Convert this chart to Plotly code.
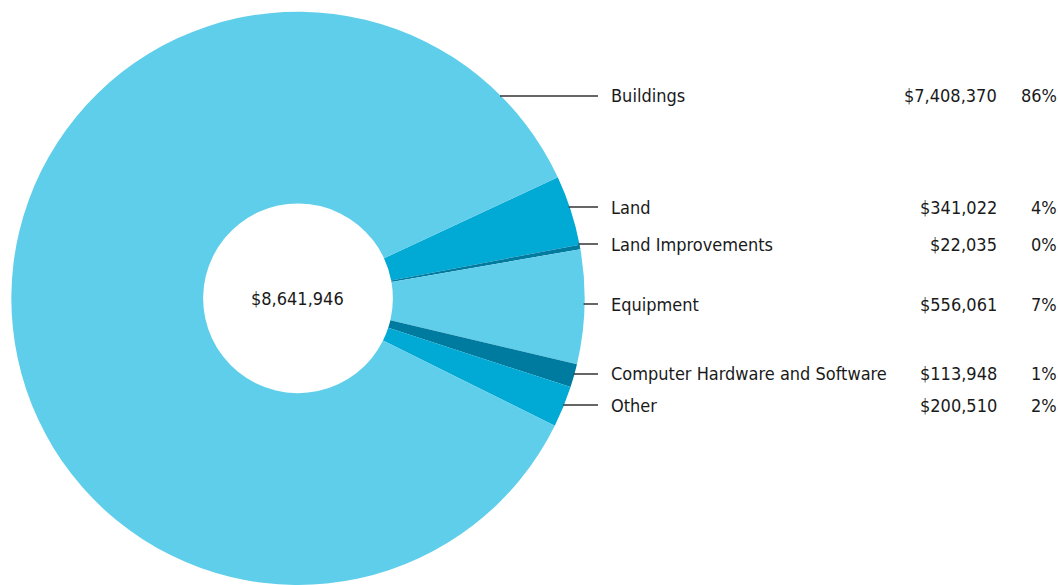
import math
import plotly.graph_objects as go

# Asset categories and their values (dollars)
categories = ["Land", "Land Improvements", "Equipment",
              "Computer Hardware and Software", "Other", "Buildings"]
values = [341022, 22035, 556061, 113948, 200510, 7408370]
colors = ["#00AAD4", "#007BA0", "#5FCEEA", "#007BA0", "#00AAD4", "#5FCEEA"]

# Order of the labels listed on the right
label_order = ["Buildings", "Land", "Land Improvements", "Equipment",
               "Computer Hardware and Software", "Other"]

W, H = 1058, 585
FONT = "DejaVu Sans Condensed, Liberation Sans, sans-serif"
FONT_SIZE = 18
TEXT_COLOR = "#1a1a1a"

dom_x = [11 / W, 585 / W]
dom_y = [0.0, 0.98]
hole = 0.331

total = sum(values)


def whole_percents(vals):
    """Integer percentages that add up to 100 (largest remainder)."""
    raw = [v / sum(vals) * 100 for v in vals]
    base = [math.floor(r) for r in raw]
    left = 100 - sum(base)
    order = sorted(range(len(vals)), key=lambda i: raw[i] - base[i], reverse=True)
    for i in order[:left]:
        base[i] += 1
    return base


pcts = dict(zip(categories, whole_percents(values)))
value_of = dict(zip(categories, values))

fig = go.Figure(go.Pie(
    labels=categories,
    values=values,
    marker=dict(colors=colors, line=dict(width=0)),
    hole=hole,
    sort=False,
    direction="clockwise",
    rotation=65,
    textinfo="none",
    hoverinfo="label+value+percent",
    domain=dict(x=dom_x, y=dom_y),
    showlegend=False,
))

# Pie geometry in pixels (used for leader line start points)
cx = (dom_x[0] + dom_x[1]) / 2 * W
cy = H - (dom_y[0] + dom_y[1]) / 2 * H
R = min((dom_x[1] - dom_x[0]) * W, (dom_y[1] - dom_y[0]) * H) / 2

# Vertical placement of each label row (pixels from top)
row_y = [96, 207, 244, 304, 374, 405]
line_end_x = 598
name_x = 609
value_x = 999
pct_x = 1059


def px(x):
    return x / W


def py(y):
    return 1 - y / H


shapes = []
annotations = []
for name, y in zip(label_order, row_y):
    v = value_of[name]
    x0 = cx + math.sqrt(max(R * R - (y - cy) ** 2, 0)) - 1
    shapes.append(dict(type="line", xref="paper", yref="paper",
                       x0=px(x0), x1=px(line_end_x), y0=py(y), y1=py(y),
                       line=dict(color="#333333", width=1.5)))
    common = dict(xref="paper", yref="paper", y=py(y), yanchor="middle",
                  showarrow=False,
                  font=dict(family=FONT, size=FONT_SIZE, color=TEXT_COLOR))
    annotations.append(dict(text=name, x=px(name_x), xanchor="left", **common))
    annotations.append(dict(text=f"${v:,.0f}", x=px(value_x), xanchor="right", **common))
    annotations.append(dict(text=f"{pcts[name]}%", x=px(pct_x), xanchor="right", **common))

annotations.append(dict(text=f"${total:,.0f}", xref="paper", yref="paper",
                        x=px(cx), y=py(cy), xanchor="center", yanchor="middle",
                        showarrow=False,
                        font=dict(family=FONT, size=FONT_SIZE, color=TEXT_COLOR)))

fig.update_layout(
    width=W, height=H,
    margin=dict(l=0, r=0, t=0, b=0),
    paper_bgcolor="white",
    plot_bgcolor="white",
    shapes=shapes,
    annotations=annotations,
)

fig.write_html("out.html")
